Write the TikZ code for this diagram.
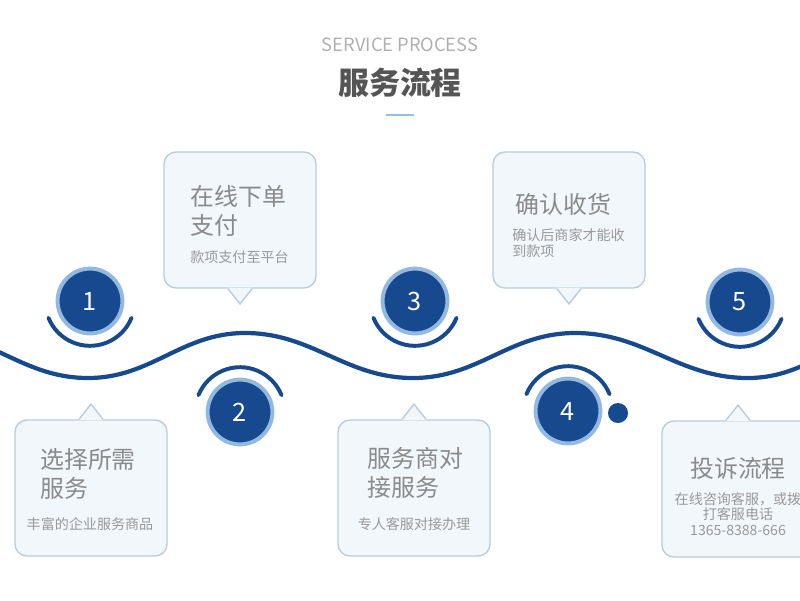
\documentclass[tikz,border=0pt]{standalone}
\usepackage{fontspec}
\setmainfont{Noto Sans CJK SC}
\usepackage{xcolor}
\usepackage{tikz}
\usetikzlibrary{positioning}
\definecolor{deepblue}{HTML}{16498E}
\definecolor{ringblue}{HTML}{93B9E2}
\definecolor{boxline}{HTML}{B9CDDE}
\definecolor{boxfill}{HTML}{F2F7FC}
\definecolor{titlegray}{HTML}{8A8A8A}
\definecolor{subgray}{HTML}{999999}
\definecolor{headgray}{HTML}{555555}
\definecolor{engray}{HTML}{B0B0B0}
\definecolor{ruleblue}{HTML}{8CC2E4}
\newcommand{\tipdown}[1]{%
  \fill[boxfill] ([xshift=-0.3cm,yshift=0.7pt]#1.south) -- ([yshift=-0.38cm]#1.south) -- ([xshift=0.3cm,yshift=0.7pt]#1.south) -- cycle;
  \draw[boxline, line width=1pt] ([xshift=-0.3cm]#1.south) -- ([yshift=-0.38cm]#1.south) -- ([xshift=0.3cm]#1.south);}
\newcommand{\tipup}[1]{%
  \fill[boxfill] ([xshift=-0.3cm,yshift=-0.7pt]#1.north) -- ([yshift=0.38cm]#1.north) -- ([xshift=0.3cm,yshift=-0.7pt]#1.north) -- cycle;
  \draw[boxline, line width=1pt] ([xshift=-0.3cm]#1.north) -- ([yshift=0.38cm]#1.north) -- ([xshift=0.3cm]#1.north);}
\begin{document}
\begin{tikzpicture}[
  x=0.025cm, y=-0.025cm,
  callout/.style={draw=boxline, fill=boxfill, line width=1pt, rounded corners=0.3cm, minimum width=3.8cm, minimum height=3.4cm, inner sep=0},
  numdot/.style={circle, fill=deepblue, draw=ringblue, line width=2.8pt, minimum size=1.62cm, inner sep=0, text=white, font=\fontsize{18}{18}\selectfont},
  arcline/.style={deepblue, line width=2.8pt, line cap=round},
  wave/.style={deepblue, line width=3pt},
  title/.style={text=titlegray, font=\fontsize{17}{21}\selectfont, align=left, inner sep=0},
  note/.style={text=subgray, font=\fontsize{10}{11.2}\selectfont, inner sep=0}
]
\fill[white] (0,0) rectangle (800,600);
\clip (0,0) rectangle (800,600);

% Heading
\node[text=engray, font=\fontsize{13}{13}\selectfont] (en) at (400,45) {SERVICE PROCESS};
\node[text=headgray, font=\fontsize{22}{22}\selectfont\bfseries] (head) at (400,83) {服务流程};
\draw[ruleblue, line width=1.5pt] (386,115) -- (414,115);

% Wave
\draw[wave] (-75,333) to[out=0,in=180] (88,378) to[out=0,in=180] (245,333)
  to[out=0,in=180] (413,378) to[out=0,in=180] (575,333)
  to[out=0,in=180] (748,378) to[out=0,in=180] (900,333);

% Steps
\node[numdot] (s1) at (90,301) {1};
\node[numdot] (s2) at (240,412) {2};
\node[numdot] (s3) at (415,301) {3};
\node[numdot] (s4) at (568,411) {4};
\node[numdot] (s5) at (740,302) {5};
\fill[deepblue] (618,413) circle (0.25cm);

\draw[arcline] ([shift={(202:1.12cm)}]s1.center) arc[start angle=202, end angle=338, radius=1.12cm];
\draw[arcline] ([shift={(22:1.12cm)}]s2.center) arc[start angle=22, end angle=158, radius=1.12cm];
\draw[arcline] ([shift={(202:1.12cm)}]s3.center) arc[start angle=202, end angle=338, radius=1.12cm];
\draw[arcline] ([shift={(22:1.12cm)}]s4.center) arc[start angle=22, end angle=158, radius=1.12cm];
\draw[arcline] ([shift={(202:1.12cm)}]s5.center) arc[start angle=202, end angle=338, radius=1.12cm];

% Upper callouts
\node[callout] (pay) at (240,220) {};
\tipdown{pay}
\node[title, anchor=west] (pay-t) at (190,211) {在线下单\\支付};
\node[note, anchor=west] (pay-n) at (190,257) {款项支付至平台};

\node[callout] (confirm) at (569,220) {};
\tipdown{confirm}
\node[title, anchor=west] (confirm-t) at (515,204) {确认收货};
\node[note, anchor=west, align=left] (confirm-n) at (512,243) {确认后商家才能收\\到款项};

% Lower callouts
\node[callout] (choose) at (91,488) {};
\tipup{choose}
\node[title, anchor=west] (choose-t) at (40,474) {选择所需\\服务};
\node[note] (choose-n) at (90,524) {丰富的企业服务商品};

\node[callout] (match) at (414,488) {};
\tipup{match}
\node[title, anchor=west] (match-t) at (367,473) {服务商对\\接服务};
\node[note] (match-n) at (414,524) {专人客服对接办理};

\node[callout] (complain) at (738,489) {};
\tipup{complain}
\node[title] (complain-t) at (738,468) {投诉流程};
\node[note, align=center] (complain-n) at (738,514) {在线咨询客服，或拨\\打客服电话\\1365-8388-666};

\end{tikzpicture}
\end{document}
